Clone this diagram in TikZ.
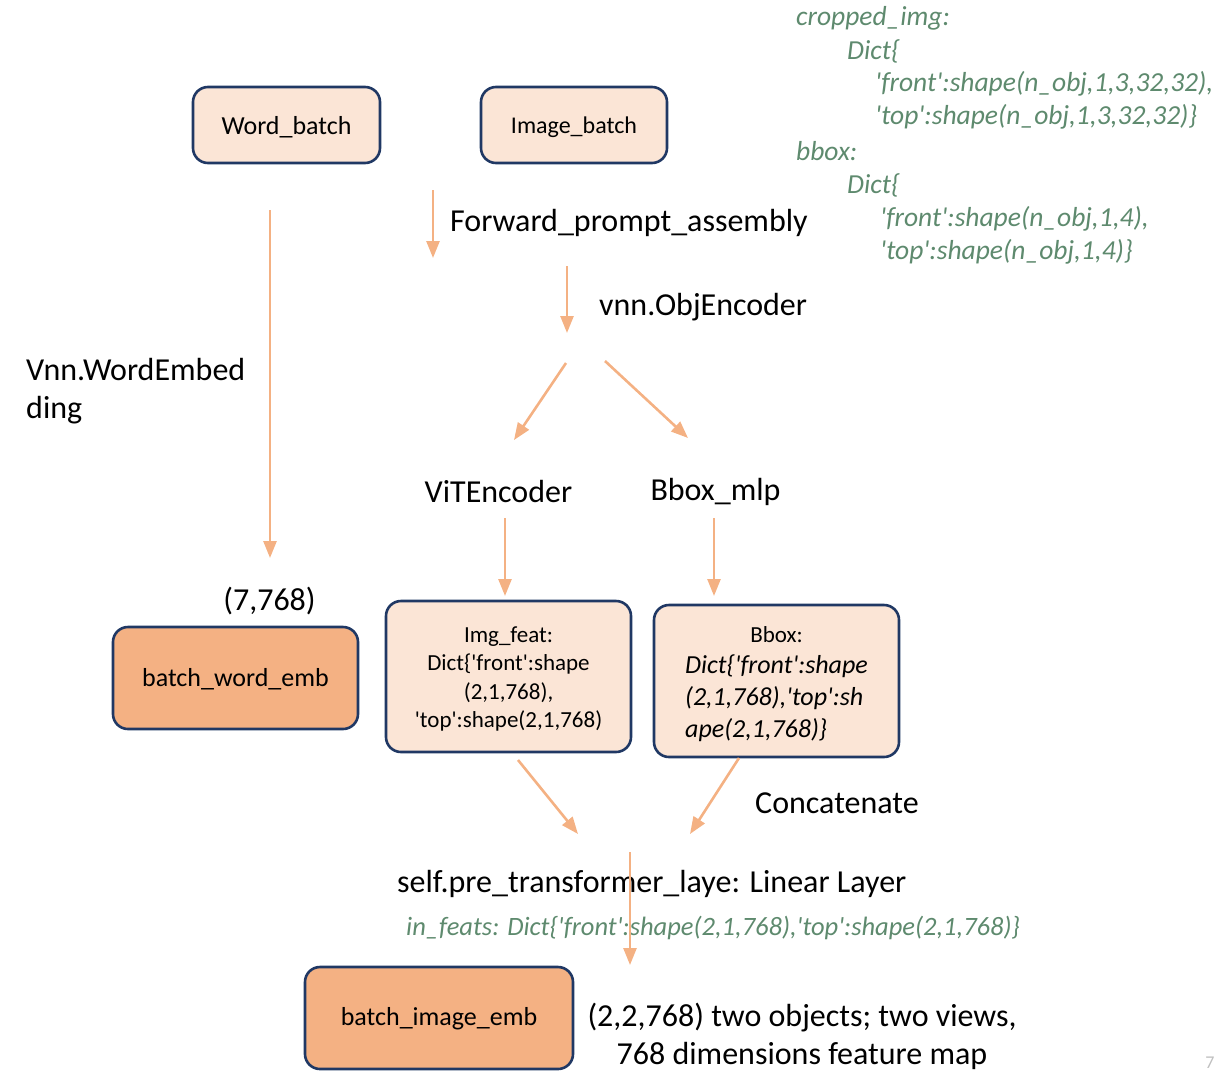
\documentclass[tikz,border=0pt]{standalone}
\usepackage{fontspec}
\setmainfont{Carlito}
\usetikzlibrary{arrows.meta}
\definecolor{boxline}{HTML}{203864}
\definecolor{lightfill}{HTML}{FBE5D6}
\definecolor{darkfill}{HTML}{F4B183}
\definecolor{flowcol}{HTML}{F4B183}
\definecolor{codecol}{HTML}{5E8A6E}
\newcommand{\tq}{\textquotesingle}
\newcommand{\boxdown}[2]{\raisebox{-#1}[\height][\depth]{#2}}

\begin{document}
\begin{tikzpicture}[x=1pt,y=-1pt,
			box/.style={draw=boxline,line width=2.6pt,rounded corners=15pt,fill=lightfill,align=center,inner sep=0pt},
			embbox/.style={box,fill=darkfill},
			flow/.style={draw=flowcol,line width=2.6pt,-{Triangle[width=13pt,length=17pt]}},
			lbl/.style={inner sep=0pt,font=\fontsize{32}{38}\selectfont},
			code/.style={inner sep=0pt,anchor=west,text=codecol,font=\fontsize{27.5}{33}\selectfont\itshape}]
			\useasboundingbox (0,0) rectangle (1222,1074);
			% boxes
			\node (wordb) [box,minimum width=187pt,minimum height=76pt,font=\fontsize{26}{31}\selectfont] at (286.5,125) {\boxdown{2pt}{Word\_batch}};
			\node (imageb) [box,minimum width=186pt,minimum height=76pt,font=\fontsize{24}{29}\selectfont] at (574,125) {\boxdown{2pt}{Image\_batch}};
			\node (wordemb) [embbox,minimum width=245pt,minimum height=102pt,font=\fontsize{26}{31}\selectfont] at (235.5,678) {\boxdown{1pt}{batch\_word\_emb}};
			\node (imgfeat) [box,minimum width=245pt,minimum height=151pt,font=\fontsize{23}{28.5}\selectfont] at (508.5,676.5)
				{\boxdown{3pt}{\begin{tabular}{@{}c@{}}Img\_feat:\\Dict\{\tq front\tq:shape\\(2,1,768),\\\tq top\tq:shape(2,1,768)\end{tabular}}};
			\node (bboxfeat) [box,minimum width=245pt,minimum height=152pt,font=\fontsize{26}{32}\selectfont] at (776.5,681)
				{\boxdown{3pt}{\begin{tabular}{@{}l@{}}\multicolumn{1}{@{}c@{}}{\fontsize{23}{28}\selectfont Bbox:}\\[-1pt]
				\itshape Dict\{\tq front\tq:shape\\\itshape (2,1,768),\tq top\tq:sh\\\itshape ape(2,1,768)\}\end{tabular}}};
			\node (imageemb) [embbox,minimum width=268pt,minimum height=102pt,font=\fontsize{26}{31}\selectfont] at (439,1018) {\boxdown{1pt}{batch\_image\_emb}};
			% labels
			\node (fwd) [lbl,anchor=west] at (450,223) {Forward\_prompt\_assembly};
			\node (objenc) [lbl,anchor=west] at (599,307) {vnn.ObjEncoder};
			\node (wordembed) [lbl,anchor=west,align=left] at (26,391) {Vnn.WordEmbed\\ding};
			\node (vit) [lbl] at (498.5,491) {ViTEncoder};
			\node (bboxmlp) [lbl] at (715.5,492) {Bbox\_mlp};
			\node (shape7) [lbl] at (269.5,601) {(7,768)};
			\node (concat) [lbl,anchor=west] at (755,803) {Concatenate};
			\node (prelayer) [lbl,anchor=west] at (397,884) {self.pre\_transformer\_laye: Linear Layer};
			\node (infeats) [code,font=\fontsize{26.5}{31}\selectfont\itshape] at (406,928)
				{in\_feats: Dict\{\tq front\tq:shape(2,1,768),\tq top\tq:shape(2,1,768)\}};
			\node (outshape) [lbl,align=center] at (802,1036) {(2,2,768) two objects; two views,\\768 dimensions feature map};
			\node (pagenum) [inner sep=0pt,text=black!25,font=\fontsize{18}{22}\selectfont] at (1210,1063) {7};
			% inputs
			\node (cropimg) [code] at (796,18) {cropped\_img:};
			\node (cropdict) [code] at (847,51) {Dict\{};
			\node (cropfront) [code] at (875,84) {\tq front\tq:shape(n\_obj,1,3,32,32),};
			\node (croptop) [code] at (875,117) {\tq top\tq:shape(n\_obj,1,3,32,32)\}};
			\node (bbox) [code] at (796,151) {bbox:};
			\node (bboxdict) [code] at (847,185) {Dict\{};
			\node (bboxfront) [code] at (880,219) {\tq front\tq:shape(n\_obj,1,4),};
			\node (bboxtop) [code] at (880,252) {\tq top\tq:shape(n\_obj,1,4)\}};
			% arrows
			\coordinate (ws) at (270,210); \coordinate (we) at (270,558);
			\coordinate (fs) at (433,190); \coordinate (fe) at (433,258);
			\coordinate (os) at (567,266); \coordinate (oe) at (567,333);
			\coordinate (vs) at (566,363); \coordinate (ve) at (514,440);
			\coordinate (ms) at (605,361); \coordinate (me) at (688,438);
			\coordinate (vfs) at (505,518); \coordinate (vfe) at (505,596);
			\coordinate (mfs) at (714,518); \coordinate (mfe) at (714,596);
			\coordinate (cls) at (518,760); \coordinate (cle) at (578,834);
			\coordinate (crs) at (739,758); \coordinate (cre) at (690,834);
			\coordinate (ls) at (630,852); \coordinate (le) at (630,965);
			\draw[flow] (ws) -- (we);
			\draw[flow] (fs) -- (fe);
			\draw[flow] (os) -- (oe);
			\draw[flow] (vs) -- (ve);
			\draw[flow] (ms) -- (me);
			\draw[flow] (vfs) -- (vfe);
			\draw[flow] (mfs) -- (mfe);
			\draw[flow] (cls) -- (cle);
			\draw[flow] (crs) -- (cre);
			\draw[flow] (ls) -- (le);
\end{tikzpicture}
\end{document}
